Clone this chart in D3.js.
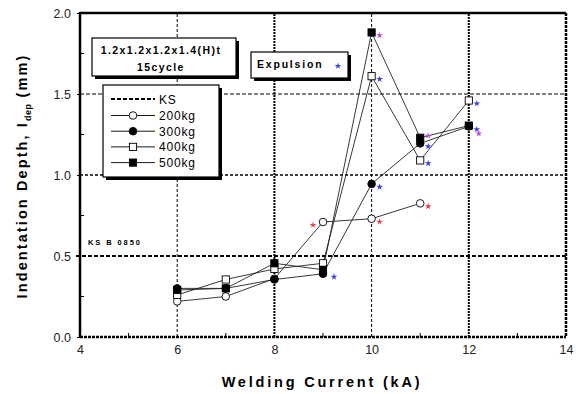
<!DOCTYPE html>
<html>
<head>
<meta charset="utf-8">
<script src="https://cdn.jsdelivr.net/npm/d3@7"></script>
<style>
  body { margin: 0; background: #fff; }
  svg { font-family: "Liberation Sans", Arial, sans-serif; }
</style>
</head>
<body>
<svg id="svg1" width="578" height="394"></svg>
<script>
// data
var current = [6, 7, 8, 9, 10, 11, 12];
var depth200 = [0.22, 0.25, 0.36, 0.71, 0.73, 0.825];
var depth300 = [0.30, 0.30, 0.355, 0.39, 0.945, 1.195, 1.30];
var depth400 = [0.26, 0.355, 0.42, 0.455, 1.61, 1.09, 1.46];
var depth500 = [0.29, 0.30, 0.455, 0.415, 1.88, 1.23, 1.305];
// currents at which expulsion happened, per series
var expel200 = [9, 10, 11];
var expel300 = [9, 10, 11, 12];
var expel400 = [10, 11, 12];
var expel500 = [10, 11, 12];
var ksLimit = 0.5;
var xTicks = [4, 6, 8, 10, 12, 14];
var yTicks = [0, 0.5, 1.0, 1.5, 2.0];

var svg = d3.select('svg');
var marginLeft = 80, marginTop = 13, plotW = 486, plotH = 324;

var x = d3.scaleLinear().domain([4, 14]).range([marginLeft, marginLeft + plotW]);
var y = d3.scaleLinear().domain([0, 2]).range([marginTop + plotH, marginTop]);

var g = svg.append('g');

// grid lines
var vgrid = [{v: 6, w: 1, d: '3,2'}, {v: 8, w: 2, d: '2,1'}, {v: 10, w: 1, d: '3,2'}, {v: 12, w: 2, d: '2,1'}];
g.selectAll('.vg').data(vgrid).enter().append('line')
    .attr('x1', function(d){ return x(d.v); }).attr('x2', function(d){ return x(d.v); })
    .attr('y1', y(0)).attr('y2', y(2))
    .attr('stroke', '#000').attr('stroke-width', function(d){ return d.w; })
    .attr('stroke-dasharray', function(d){ return d.d; });
var hgrid = [{v: 1.5, w: 1, d: '4,2'}, {v: 1.0, w: 1.6, d: '3,2'}];
g.selectAll('.hg').data(hgrid).enter().append('line')
    .attr('y1', function(d){ return y(d.v); }).attr('y2', function(d){ return y(d.v); })
    .attr('x1', x(4)).attr('x2', x(14))
    .attr('stroke', '#000').attr('stroke-width', function(d){ return d.w; })
    .attr('stroke-dasharray', function(d){ return d.d; });

// KS limit line
g.append('line')
    .attr('x1', x(4) - 4).attr('x2', x(14))
    .attr('y1', y(ksLimit)).attr('y2', y(ksLimit))
    .attr('stroke', '#000').attr('stroke-width', 2.2).attr('stroke-dasharray', '4,2');
g.append('text').attr('x', x(4) + 8).attr('y', y(ksLimit) - 11)
    .attr('font-size', 7.5).attr('font-weight', 'bold').attr('letter-spacing', 1.9)
    .text('KS B 0850');

// minor ticks (inside)
g.selectAll('.xm').data([5, 7, 9, 11, 13]).enter().append('line')
    .attr('x1', function(d){ return x(d); }).attr('x2', function(d){ return x(d); })
    .attr('y1', y(0)).attr('y2', y(0) - 4).attr('stroke', '#000');
g.selectAll('.ym').data([0.25, 0.75, 1.25, 1.75]).enter().append('line')
    .attr('y1', function(d){ return y(d); }).attr('y2', function(d){ return y(d); })
    .attr('x1', x(4)).attr('x2', x(4) + 4).attr('stroke', '#000');

// axes
var xAxis = d3.axisBottom(x).tickValues(xTicks).tickSize(0).tickPadding(8).tickFormat(d3.format('d'));
var yAxis = d3.axisLeft(y).tickValues(yTicks).tickSize(3).tickPadding(6).tickFormat(d3.format('.1f'));
var xa = svg.append('g').attr('transform', 'translate(0,' + y(0) + ')').call(xAxis);
var ya = svg.append('g').attr('transform', 'translate(' + x(4) + ',0)').call(yAxis);
[xa, ya].forEach(function(a){
  a.select('.domain').remove();
  a.selectAll('text').attr('font-size', 12.5).attr('fill', '#222').attr('font-family', '"Liberation Sans", Arial');
  a.selectAll('line').attr('stroke', '#000');
});

// frame
svg.append('line').attr('x1', x(4)).attr('x2', x(14)).attr('y1', y(2)).attr('y2', y(2)).attr('stroke', '#000').attr('stroke-width', 2.5);
svg.append('line').attr('x1', x(4)).attr('x2', x(4)).attr('y1', y(2) - 1).attr('y2', y(0) + 1).attr('stroke', '#000').attr('stroke-width', 2.5);
svg.append('line').attr('x1', x(4)).attr('x2', x(14)).attr('y1', y(0)).attr('y2', y(0)).attr('stroke', '#000').attr('stroke-width', 2.5).attr('stroke-dasharray', '3,1');
svg.append('line').attr('x1', x(14)).attr('x2', x(14)).attr('y1', y(2)).attr('y2', y(0)).attr('stroke', '#000').attr('stroke-width', 2.5).attr('stroke-dasharray', '3,1');

// series
var series = [
  {name: '200kg', ys: depth200, exp: expel200, shape: 'circle', fill: '#fff', star: '#e8404a'},
  {name: '300kg', ys: depth300, exp: expel300, shape: 'circle', fill: '#000', star: '#3c3cf0'},
  {name: '400kg', ys: depth400, exp: expel400, shape: 'square', fill: '#fff', star: '#3c3cf0'},
  {name: '500kg', ys: depth500, exp: expel500, shape: 'square', fill: '#000', star: '#c048e0'}
];

var line = d3.line().x(function(d){ return x(d[0]); }).y(function(d){ return y(d[1]); });

series.forEach(function(s){
  s.pts = s.ys.map(function(v, i){ return [current[i], v]; });
  g.append('path').attr('d', line(s.pts)).attr('fill', 'none')
      .attr('stroke', '#222').attr('stroke-width', 0.9);
});

function drawMarker(sel, s, cx, cy) {
  if (s.shape === 'circle') {
    sel.append('circle').attr('cx', cx).attr('cy', cy).attr('r', 3.8)
        .attr('fill', s.fill).attr('stroke', '#000').attr('stroke-width', 0.9);
  } else {
    sel.append('rect').attr('x', cx - 3.6).attr('y', cy - 3.6).attr('width', 7.2).attr('height', 7.2)
        .attr('fill', s.fill).attr('stroke', '#000').attr('stroke-width', 0.9);
  }
}

var star = d3.symbol().type(d3.symbolStar).size(14);

series.forEach(function(s){
  s.pts.forEach(function(p){ drawMarker(g, s, x(p[0]), y(p[1])); });
});
series.forEach(function(s){
  s.pts.filter(function(p){ return s.exp.indexOf(p[0]) >= 0; }).forEach(function(p){
    var dx = 8, dy = 3;
    // the first 200kg star sits left of its point, crowded ones shift a bit
    if (s.name === '200kg' && p[0] === 9) { dx = -10; }
    if (s.name === '300kg' && p[0] === 9) { dx = 11; }
    if (s.name === '500kg' && p[0] === 12) { dx = 10; dy = 8; }
    if (s.name === '500kg' && p[0] === 11) { dy = -2; }
    g.append('path').attr('d', star)
        .attr('transform', 'translate(' + (x(p[0]) + dx) + ',' + (y(p[1]) + dy) + ')')
        .attr('fill', s.star);
  });
});

// boxes with shadow
function box(x0, y0, w, h) {
  svg.append('rect').attr('x', x0 + 3).attr('y', y0 + 3).attr('width', w).attr('height', h).attr('fill', '#000');
  svg.append('rect').attr('x', x0).attr('y', y0).attr('width', w).attr('height', h)
      .attr('fill', '#fff').attr('stroke', '#000').attr('stroke-width', 1.2);
}

box(92, 38, 144, 38);
svg.append('text').attr('x', 161).attr('y', 54).attr('text-anchor', 'middle')
    .attr('font-size', 10.5).attr('font-weight', 'bold').attr('letter-spacing', 1.4)
    .text('1.2x1.2x1.2x1.4(H)t');
svg.append('text').attr('x', 161).attr('y', 71).attr('text-anchor', 'middle')
    .attr('font-size', 10.5).attr('font-weight', 'bold').attr('letter-spacing', 1.4)
    .text('15cycle');

box(251, 52, 97, 26);
svg.append('text').attr('x', 257).attr('y', 68)
    .attr('font-size', 10.5).attr('font-weight', 'bold').attr('letter-spacing', 1.8)
    .text('Expulsion');
svg.append('path').attr('d', star).attr('transform', 'translate(338,66)').attr('fill', '#3c3cf0');

// legend
box(103, 85, 116, 92);
var lg = svg.append('g');
lg.append('line').attr('x1', 111).attr('x2', 155).attr('y1', 99).attr('y2', 99)
    .attr('stroke', '#000').attr('stroke-width', 2).attr('stroke-dasharray', '4,2');
lg.append('text').attr('x', 159).attr('y', 103.5).attr('font-size', 12).attr('letter-spacing', 0.8).text('KS');
series.forEach(function(s, i){
  var ly = 115.5 + i * 15.7;
  lg.append('line').attr('x1', 111).attr('x2', 155).attr('y1', ly).attr('y2', ly).attr('stroke', '#000').attr('stroke-width', 0.9);
  drawMarker(lg, s, 133, ly);
  lg.append('text').attr('x', 159).attr('y', ly + 4.5).attr('font-size', 12).attr('letter-spacing', 0.8).text(s.name);
});

// axis titles
svg.append('text').attr('x', 322).attr('y', 387).attr('text-anchor', 'middle')
    .attr('font-size', 14.5).attr('font-weight', 'bold').attr('letter-spacing', 2.8)
    .text('Welding Current (kA)');

var yt = svg.append('text').attr('transform', 'translate(27,176) rotate(-90)').attr('text-anchor', 'middle')
    .attr('font-size', 14.5).attr('font-weight', 'bold').attr('letter-spacing', 2.1);
yt.append('tspan').text('Indentation Depth, I');
yt.append('tspan').attr('font-size', 9).attr('dy', 4).attr('letter-spacing', 0.5).text('dep');
yt.append('tspan').attr('dy', -4).text('  (mm)');
</script>
</body>
</html>
